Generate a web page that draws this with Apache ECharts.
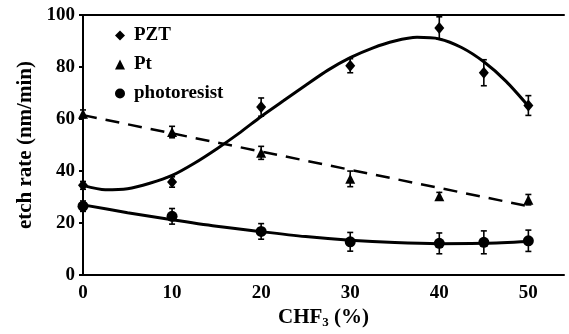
<!DOCTYPE html>
<html>
<head>
<meta charset="utf-8">
<script src="https://cdn.jsdelivr.net/npm/echarts@6/dist/echarts.min.js"></script>
<style>
html,body{margin:0;padding:0;background:#fff;}
#chart{width:569px;height:334px;}
</style>
</head>
<body>
<div id="chart"></div>
<script>
var myChart = echarts.init(document.getElementById('chart'));

// measured points (CHF3 %, etch rate nm/min, +/- error)
var xPZT = [0, 10, 20, 30, 40, 45, 50];
var pztRate = [34.5, 35.8, 64.6, 80.5, 95, 77.8, 65.2];
var pztErr = [1.5, 2, 3.5, 2.7, 4.3, 5, 3.8];

var xPt = [0, 10, 20, 30, 40, 50];
var ptRate = [62, 55, 47, 37, 30.3, 29];
var ptErr = [1.5, 2.2, 2.5, 3, 1.5, 2];

var xPR = [0, 10, 20, 30, 40, 45, 50];
var prRate = [26.5, 22.6, 16.8, 12.8, 12.2, 12.6, 13.2];
var prErr = [2, 3, 3, 3.6, 4, 4.4, 4.1];

// fitted curves
var pztFitX = [0, 2.5, 5, 7.5, 10, 12.5, 15, 17.5, 20, 22.5, 25, 27.5, 30, 32.5, 35, 37.5, 40, 42.5, 45, 47.5, 50];
var pztFitY = [34.5, 32.8, 33.2, 35.3, 38.3, 43, 48.5, 54.5, 61, 67, 73, 78.8, 83.6, 87.3, 90, 91.4, 90.8, 87.5, 82, 74.5, 65];
var ptFitX = [0, 50];
var ptFitY = [61.5, 26.5];
var prFitX = [0, 5, 10, 15, 20, 25, 30, 35, 40, 45, 50];
var prFitY = [27, 24, 21.3, 18.8, 16.7, 14.8, 13.4, 12.5, 12.1, 12.2, 12.9];

var yTicks = [0, 20, 40, 60, 80, 100];

var FONT = "'Liberation Serif', 'DejaVu Serif', serif";

function pairs(xs, ys){
    var out = [];
    for (var i = 0; i < xs.length; i++) out.push([xs[i], ys[i]]);
    return out;
}
function errData(xs, ys, es){
    var out = [];
    for (var i = 0; i < xs.length; i++) out.push([xs[i], ys[i] - es[i], ys[i] + es[i]]);
    return out;
}
function errorBars(params, api){
    var x = api.value(0);
    var lo = api.coord([x, api.value(1)]);
    var hi = api.coord([x, api.value(2)]);
    var st = {stroke: '#000', lineWidth: 1.6};
    return {
        type: 'group',
        children: [
            {type: 'line', shape: {x1: lo[0], y1: lo[1], x2: hi[0], y2: hi[1]}, style: st},
            {type: 'line', shape: {x1: lo[0] - 3, y1: lo[1], x2: lo[0] + 3, y2: lo[1]}, style: st},
            {type: 'line', shape: {x1: hi[0] - 3, y1: hi[1], x2: hi[0] + 3, y2: hi[1]}, style: st}
        ]
    };
}

var option = {
    backgroundColor: '#fff',
    animation: false,
    grid: {left: 83, top: 15, right: 5, bottom: 55},
    legend: {
        orient: 'vertical',
        left: 110,
        top: 21,
        itemWidth: 10,
        itemHeight: 10,
        itemGap: 10,
        data: ['PZT', 'Pt', 'photoresist'],
        textStyle: {fontFamily: FONT, fontWeight: 'bold', fontSize: 19, color: '#000', padding: [0, 0, 0, 4]}
    },
    xAxis: [
        {
            type: 'value',
            min: 0,
            max: 54,
            interval: 10,
            name: '{a|CHF}{s|3}{a| (%)}',
            nameLocation: 'middle',
            nameGap: 30,
            nameTextStyle: {
                rich: {
                    a: {fontFamily: FONT, fontWeight: 'bold', fontSize: 21, color: '#000'},
                    s: {fontFamily: FONT, fontWeight: 'bold', fontSize: 13, color: '#000', padding: [10, 0, 0, 0]}
                }
            },
            axisLine: {lineStyle: {color: '#000', width: 2}},
            axisTick: {show: false},
            splitLine: {show: false},
            axisLabel: {
                margin: 8,
                fontFamily: FONT, fontWeight: 'bold', fontSize: 19, color: '#000',
                formatter: function(v){ return v % 10 === 0 ? v : ''; }
            }
        },
        {
            type: 'value',
            position: 'top',
            min: 0,
            max: 54,
            axisLine: {show: true, lineStyle: {color: '#000', width: 2}},
            axisTick: {show: false},
            axisLabel: {show: false},
            splitLine: {show: false}
        }
    ],
    yAxis: {
        type: 'value',
        min: yTicks[0],
        max: yTicks[yTicks.length - 1],
        interval: 20,
        name: 'etch rate (nm/min)',
        nameLocation: 'middle',
        nameGap: 46,
        nameTextStyle: {fontFamily: FONT, fontWeight: 'bold', fontSize: 21, color: '#000'},
        axisLine: {show: true, lineStyle: {color: '#000', width: 2}},
        axisTick: {show: true, length: 4, lineStyle: {color: '#000', width: 2}},
        splitLine: {show: false},
        axisLabel: {margin: 8, fontFamily: FONT, fontWeight: 'bold', fontSize: 19, color: '#000'}
    },
    series: [
        {
            name: 'PZT fit', type: 'line', smooth: 0.25, showSymbol: false, silent: true,
            lineStyle: {color: '#000', width: 3},
            data: pairs(pztFitX, pztFitY)
        },
        {
            name: 'Pt fit', type: 'line', showSymbol: false, silent: true,
            lineStyle: {color: '#000', width: 2.5, type: [14, 9]},
            data: pairs(ptFitX, ptFitY)
        },
        {
            name: 'photoresist fit', type: 'line', smooth: 0.3, showSymbol: false, silent: true,
            lineStyle: {color: '#000', width: 3},
            data: pairs(prFitX, prFitY)
        },
        {type: 'custom', renderItem: errorBars, data: errData(xPZT, pztRate, pztErr), z: 3},
        {type: 'custom', renderItem: errorBars, data: errData(xPt, ptRate, ptErr), z: 3},
        {type: 'custom', renderItem: errorBars, data: errData(xPR, prRate, prErr), z: 3},
        {
            name: 'PZT', type: 'scatter', symbol: 'diamond', symbolSize: [10, 12],
            itemStyle: {color: '#000', opacity: 1}, z: 4,
            data: pairs(xPZT, pztRate)
        },
        {
            name: 'Pt', type: 'scatter', symbol: 'triangle', symbolSize: [10, 10],
            itemStyle: {color: '#000', opacity: 1}, z: 4,
            data: pairs(xPt, ptRate)
        },
        {
            name: 'photoresist', type: 'scatter', symbol: 'circle', symbolSize: 11,
            itemStyle: {color: '#000', opacity: 1}, z: 4,
            data: pairs(xPR, prRate)
        }
    ]
};
myChart.setOption(option);
</script>
</body>
</html>
